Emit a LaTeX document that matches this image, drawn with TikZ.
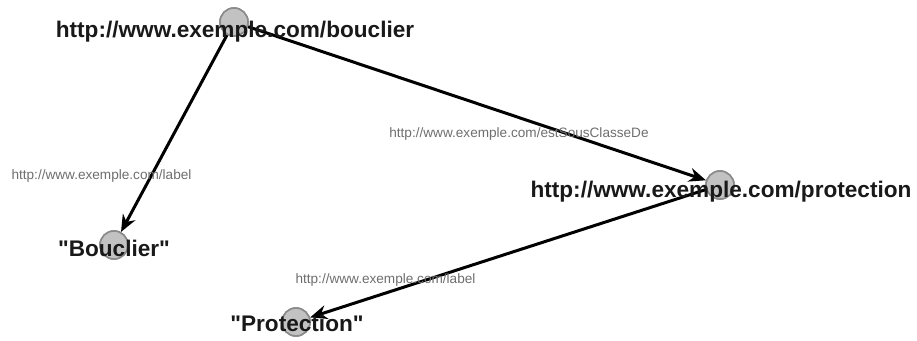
\documentclass[tikz,border=0pt]{standalone}
\usepackage{fontspec}
\setmainfont{Liberation Sans}[Ligatures=TeXOff]
\usetikzlibrary{arrows.meta}
\definecolor{nodefill}{HTML}{C2C2C2}
\definecolor{nodedraw}{HTML}{8A8A8A}
\definecolor{edgelab}{HTML}{6E6E6E}
\begin{document}
\begin{tikzpicture}[x=1pt,y=-1pt,
  vertex/.style={circle,fill=nodefill,draw=nodedraw,line width=1.6pt,minimum size=28pt,inner sep=0pt},
  nodetext/.style={anchor=base,inner sep=0pt,font=\fontsize{22.6}{26}\selectfont\bfseries,text=black!90},
  edgetext/.style={anchor=base,inner sep=0pt,font=\fontsize{13.6}{16}\selectfont,text=edgelab},
  rel/.style={line width=3pt,-{Stealth[length=17pt,width=14pt]}}]
\useasboundingbox (0,0) rectangle (917,340);
% circles (named, used as connector ends)
\node[vertex] (b) at (234,22) {};
\node[vertex] (p) at (720,185) {};
\node[vertex] (lb) at (114,245) {};
\node[vertex] (lp) at (296,322) {};
% connectors
\draw[rel] (b) -- (lb);
\draw[rel] (b) -- (p);
\draw[rel] (p) -- (lp);
% circles again on top of the line starts
\node[vertex] at (b) {};
\node[vertex] at (p) {};
\node[vertex] at (lb) {};
\node[vertex] at (lp) {};
% texts
\node[nodetext] (tb) at (235,37.5) {http://www.exemple.com/bouclier};
\node[nodetext] (tp) at (721,197) {http://www.exemple.com/protection};
\node[nodetext] (tlb) at (114,256) {"Bouclier"};
\node[nodetext] (tlp) at (297,331) {"Protection"};
\node[edgetext] (e1) at (519,137) {http://www.exemple.com/estSousClasseDe};
\node[edgetext] (e2) at (101.5,179) {http://www.exemple.com/label};
\node[edgetext] (e3) at (385.5,283) {http://www.exemple.com/label};
\end{tikzpicture}
\end{document}
